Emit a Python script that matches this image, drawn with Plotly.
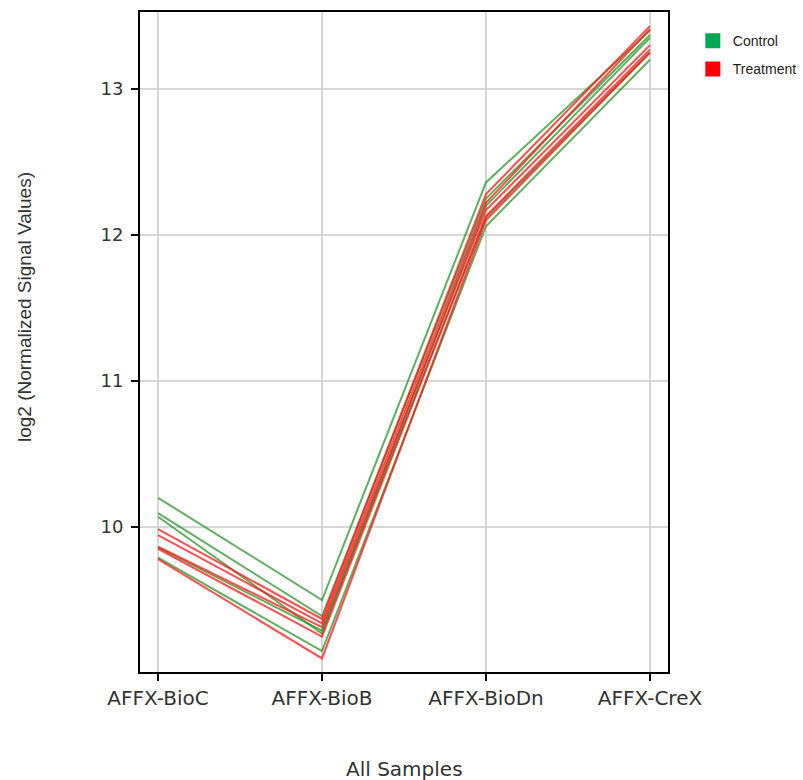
import plotly.graph_objects as go

categories = ["AFFX-BioC", "AFFX-BioB", "AFFX-BioDn", "AFFX-CreX"]

control = [
    [10.20, 9.50, 12.36, 13.40],
    [10.095, 9.39, 12.25, 13.37],
    [10.07, 9.27, 12.20, 13.35],
    [9.86, 9.29, 12.12, 13.25],
    [9.79, 9.15, 12.06, 13.20],
]
treatment = [
    [9.985, 9.37, 12.28, 13.43],
    [9.945, 9.34, 12.22, 13.41],
    [9.865, 9.315, 12.17, 13.30],
    [9.85, 9.25, 12.13, 13.27],
    [9.78, 9.10, 12.10, 13.25],
]
group_names = ["Control", "Treatment"]
y_ticks = [10, 11, 12, 13]

line_colors = ["rgba(40,150,40,0.75)", "rgba(255,20,20,0.75)"]
legend_colors = ["#00a651", "#ff0000"]

fig = go.Figure()
for gi, series in enumerate([control, treatment]):
    for vals in series:
        fig.add_trace(go.Scatter(
            x=categories, y=vals, mode="lines",
            line=dict(color=line_colors[gi], width=2),
            showlegend=False, hoverinfo="skip"))

for gi, name in enumerate(group_names):
    fig.add_trace(go.Scatter(
        x=[None], y=[None], mode="markers", name=name,
        legendgroup=name,
        marker=dict(symbol="square", size=15, color=legend_colors[gi])))

fig.update_layout(
    width=803, height=780,
    margin=dict(l=140, r=135, t=12, b=108, autoexpand=False),
    plot_bgcolor="white", paper_bgcolor="white",
    font=dict(family="DejaVu Sans", size=17, color="#333333"),
    legend=dict(x=1.047, y=0.980, xanchor="left", yanchor="top",
                font=dict(family="Liberation Sans", size=14, color="#222222"),
                tracegroupgap=7, bgcolor="rgba(0,0,0,0)"),
    xaxis=dict(
        type="category", range=[-0.11, 3.11],
        showline=True, linecolor="black", linewidth=2, mirror=True,
        showgrid=True, gridcolor="#d6d6d6", gridwidth=1.5,
        ticks="outside", ticklen=7, tickwidth=2, tickcolor="black",
        tickfont=dict(family="DejaVu Sans", size=20, color="#333333"),
        zeroline=False),
    yaxis=dict(
        range=[9.007, 13.527], tickvals=y_ticks,
        showline=True, linecolor="black", linewidth=2, mirror=True,
        showgrid=True, gridcolor="#d6d6d6", gridwidth=1.5,
        ticks="outside", ticklen=7, tickwidth=2, tickcolor="black",
        ticklabelstandoff=4,
        tickfont=dict(family="DejaVu Sans", size=18, color="#333333"),
        zeroline=False),
    annotations=[
        dict(text="log2 (Normalized Signal Values)", xref="paper", yref="paper",
             x=-0.2197, y=0.553, xanchor="center", yanchor="middle",
             textangle=-90, showarrow=False,
             font=dict(family="Liberation Sans", size=19, color="#333333")),
        dict(text="All Samples", xref="paper", yref="paper",
             x=0.5, y=-0.147, xanchor="center", yanchor="middle",
             showarrow=False,
             font=dict(family="DejaVu Sans", size=20, color="#333333")),
    ],
)

fig.write_html("out.html")
